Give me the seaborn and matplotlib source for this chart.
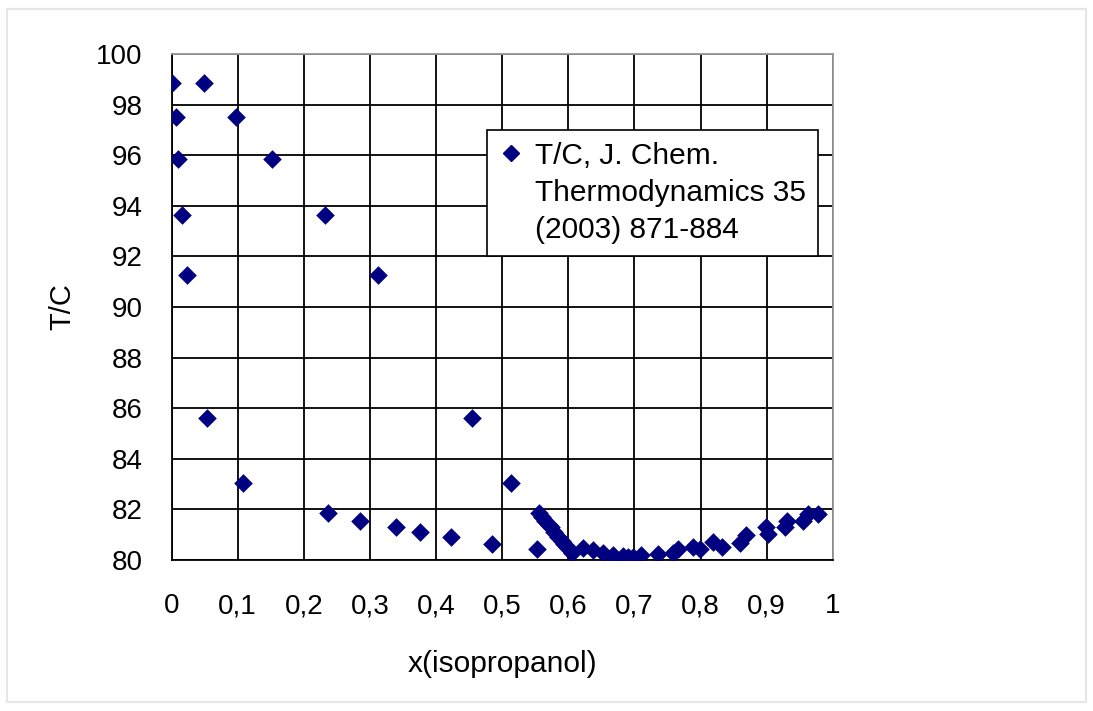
import numpy as np
import pandas as pd
import matplotlib
matplotlib.use("Agg")
import matplotlib.pyplot as plt
from matplotlib.lines import Line2D
from matplotlib.patches import Rectangle
import seaborn as sns

# data
x_iso = [0.001, 0.006, 0.010, 0.016, 0.024, 0.049, 0.053, 0.097, 0.108, 0.152,
         0.232, 0.236, 0.285, 0.312, 0.339, 0.375, 0.423, 0.455, 0.485, 0.514,
         0.552, 0.556, 0.560, 0.565, 0.570, 0.573, 0.579, 0.585, 0.590, 0.594,
         0.598, 0.601, 0.605, 0.622, 0.637, 0.652, 0.667, 0.682, 0.690, 0.698,
         0.710, 0.736, 0.758, 0.766, 0.789, 0.799, 0.819, 0.832, 0.859, 0.869,
         0.899, 0.902, 0.927, 0.930, 0.955, 0.962, 0.978]
t_c = [98.85, 97.5, 95.85, 93.65, 91.25, 98.85, 85.6, 97.5, 83.05, 95.85,
       93.65, 81.85, 81.55, 91.25, 81.3, 81.1, 80.9, 85.6, 80.63, 83.05,
       80.42, 81.85, 81.7, 81.55, 81.4, 81.3, 81.1, 80.9, 80.75, 80.63,
       80.5, 80.42, 80.26, 80.48, 80.38, 80.28, 80.2, 80.15, 80.12, 80.13,
       80.18, 80.25, 80.27, 80.45, 80.52, 80.45, 80.72, 80.53, 80.66, 80.99,
       81.3, 81.02, 81.3, 81.55, 81.55, 81.8, 81.82]

x_ticks = [0, 0.1, 0.2, 0.3, 0.4, 0.5, 0.6, 0.7, 0.8, 0.9, 1.0]
x_tick_labels = ["0", "0,1", "0,2", "0,3", "0,4", "0,5", "0,6", "0,7", "0,8", "0,9", "1"]
y_ticks = [80, 82, 84, 86, 88, 90, 92, 94, 96, 98, 100]
legend_lines = ["T/C, J. Chem.", "Thermodynamics 35", "(2003) 871-884"]

df = pd.DataFrame({"x": x_iso, "T": t_c})

sns.set_style("white")
plt.rcParams["font.family"] = ["Liberation Sans", "DejaVu Sans"]
plt.rcParams["text.color"] = "black"
plt.rcParams["axes.labelcolor"] = "black"
plt.rcParams["xtick.color"] = "black"
plt.rcParams["ytick.color"] = "black"

fig = plt.figure(figsize=(10.93, 7.11), dpi=100)
fig.patches.append(Rectangle((0.006, 0.012), 0.988, 0.976, transform=fig.transFigure,
                             fill=False, edgecolor="#e6e6e6", linewidth=1.5))
ax = fig.add_axes([0.157, 0.2124, 0.605, 0.7116])

sns.scatterplot(data=df, x="x", y="T", marker="D", s=90, color="#000080",
                edgecolor="#000080", linewidth=0, ax=ax, zorder=3, legend=False)

ax.set_xlim(0, 1)
ax.set_ylim(80, 100)
ax.set_xticks(x_ticks)
ax.set_xticklabels(x_tick_labels)
ax.set_yticks(y_ticks)
ax.grid(True, color="black", linewidth=1.3)
ax.set_axisbelow(True)
for side in ["left", "bottom"]:
    ax.spines[side].set_color("black")
    ax.spines[side].set_linewidth(1.3)
for side in ["top", "right"]:
    ax.spines[side].set_color("#999999")
    ax.spines[side].set_linewidth(1.3)

ax.tick_params(axis="both", labelsize=20, direction="out", width=1.3)
ax.tick_params(axis="x", length=7, pad=17)
ax.tick_params(axis="y", length=5, pad=16)
ax.set_xlabel("x(isopropanol)", fontsize=21.5, labelpad=22)
ax.set_ylabel("T/C", fontsize=21, labelpad=14)

handles = [Line2D([], [], linestyle="none", marker="D", markersize=8,
                  color="#000080")]
handles += [Line2D([], [], linestyle="none") for _ in legend_lines[1:]]
leg = ax.legend(handles, legend_lines, loc="upper left",
                bbox_to_anchor=(0.477, 0.85), borderaxespad=0, fontsize=21.5,
                frameon=True, fancybox=False, framealpha=1, edgecolor="black",
                labelspacing=0.3, handlelength=0.8, handletextpad=0.4,
                borderpad=0.4)
leg.get_frame().set_linewidth(1.2)

fig.savefig("out.png", dpi=100)
